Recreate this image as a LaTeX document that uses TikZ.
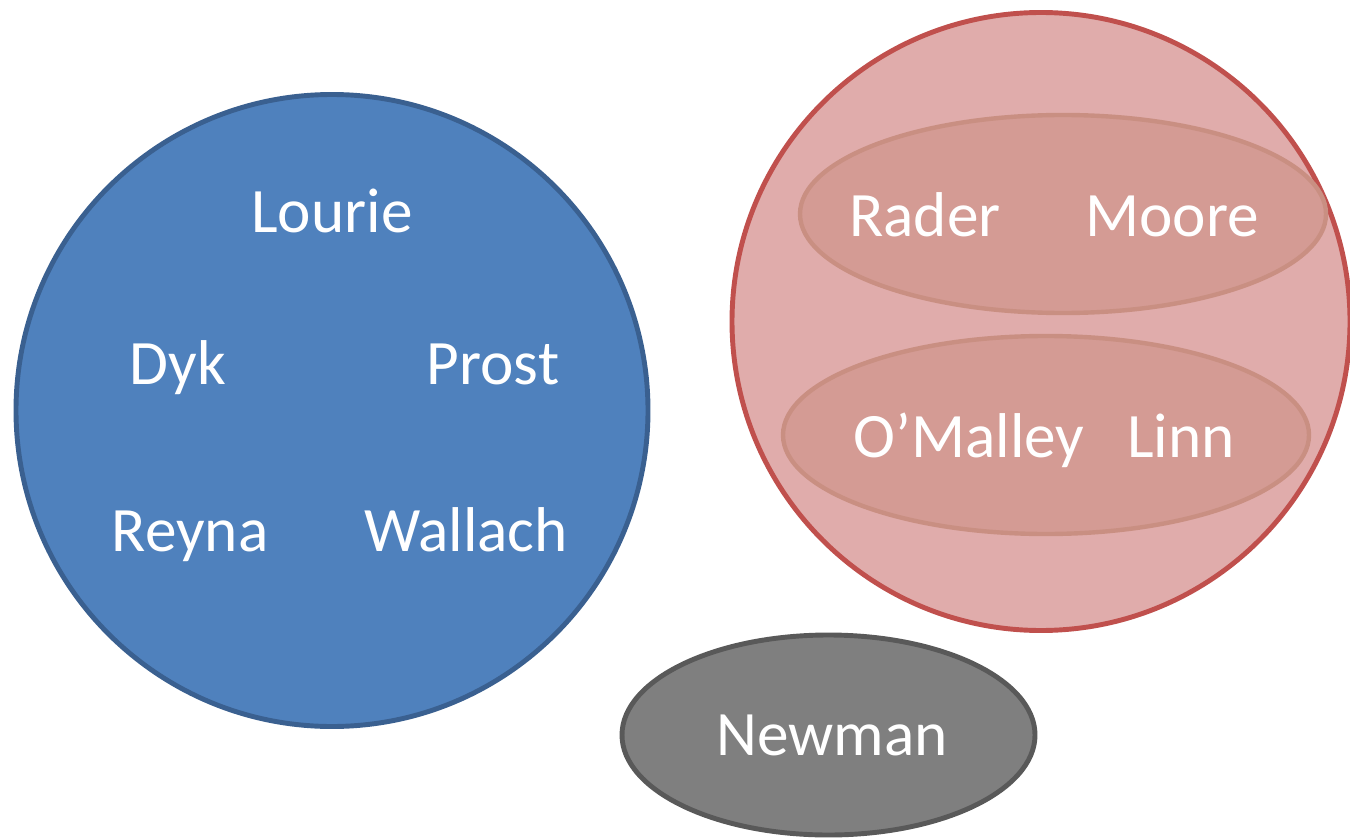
\documentclass[tikz,border=0pt]{standalone}
\usepackage{fontspec}
\setmainfont{Carlito}

\definecolor{bluefill}{HTML}{4F81BD}
\definecolor{blueline}{HTML}{3A6090}
\definecolor{redfill}{HTML}{E0ACAB}
\definecolor{redline}{HTML}{C0504D}
\definecolor{pairfill}{HTML}{D49B94}
\definecolor{pairline}{HTML}{C98F82}
\definecolor{greyfill}{HTML}{7F7F7F}
\definecolor{greyline}{HTML}{595959}

\begin{document}
\begin{tikzpicture}
    [
      every node/.style={white},
      person/.style={anchor=base, font=\fontsize{36}{42}\selectfont},
      group/.style={line width=2.8pt},
    ]

    \useasboundingbox (0,0) rectangle (27,16.76);

    % blue group
    \draw [group, draw=blueline, fill=bluefill] (6.64,8.55) circle (6.32);
    \node [person] (lourie) at (6.64,12.12) {Lourie};
    \node [person] (dyk) at (3.56,9.08) {Dyk};
    \node [person] (prost) at (9.86,9.08) {Prost};
    \node [person] (reyna) at (3.80,5.74) {Reyna};
    \node [person] (wallach) at (9.32,5.74) {Wallach};

    % red group with two pairs
    \draw [group, draw=redline, fill=redfill] (20.82,10.33) circle (6.18);
    \draw [group, line width=2.5pt, draw=pairline, fill=pairfill] (21.26,12.48) ellipse (5.26 and 1.98);
    \draw [group, line width=2.5pt, draw=pairline, fill=pairfill] (20.92,8.06) ellipse (5.26 and 1.98);
    \node [person] (rader) at (18.50,12.02) {Rader};
    \node [person] (moore) at (23.44,12.02) {Moore};
    \node [person] (omalley) at (19.38,7.62) {O’Malley};
    \node [person] (linn) at (23.62,7.62) {Linn};

    % single
    \draw [group, draw=greyline, fill=greyfill] (16.57,2.06) ellipse (4.13 and 2.0);
    \node [person] (newman) at (16.64,1.66) {Newman};
  \end{tikzpicture}
\end{document}
